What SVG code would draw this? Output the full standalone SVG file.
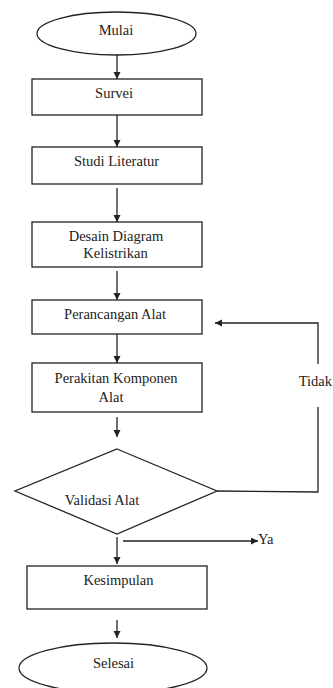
<svg xmlns="http://www.w3.org/2000/svg" width="333" height="688" viewBox="0 0 333 688">
<defs>
<marker id="a" markerUnits="userSpaceOnUse" markerWidth="8" markerHeight="8" refX="7" refY="3.5" orient="auto">
<path d="M0,0 L7,3.5 L0,7 z" fill="#222"/>
</marker>
</defs>
<rect width="333" height="688" fill="#fff"/>
<g id="connectors" fill="none" stroke="#222" stroke-width="1.3">
<line x1="117" y1="55" x2="117" y2="79" marker-end="url(#a)"/>
<line x1="117" y1="115" x2="117" y2="147" marker-end="url(#a)"/>
<line x1="117" y1="188" x2="117" y2="222" marker-end="url(#a)"/>
<line x1="117" y1="271" x2="117" y2="300" marker-end="url(#a)"/>
<line x1="117" y1="334" x2="117" y2="363" marker-end="url(#a)"/>
<line x1="117" y1="417" x2="117" y2="437" marker-end="url(#a)"/>
<line x1="117" y1="537" x2="117" y2="564" marker-end="url(#a)"/>
<line x1="117" y1="620" x2="117" y2="638" marker-end="url(#a)"/>
<polyline points="217,491 318,492 318,407"/>
<polyline points="318,364 318,323 215,323" marker-end="url(#a)"/>
<line x1="123" y1="541" x2="258" y2="541" marker-end="url(#a)"/>
</g>
<g id="labels" fill="#222">
<text x="332" y="386" font-family="Liberation Serif" font-size="14.5" text-anchor="end">Tidak</text>
<text x="258" y="544" font-family="Liberation Serif" font-size="14.5">Ya</text>
</g>
<g id="nodes" fill="#fff" stroke="#222" stroke-width="1.3">
<g id="mulai"><ellipse cx="116.5" cy="33.5" rx="79.5" ry="21.5"/></g>
<g id="survei"><rect x="32" y="79" width="170" height="36"/></g>
<g id="studi"><rect x="32" y="147" width="170" height="37"/></g>
<g id="desain"><rect x="32" y="222" width="170" height="45"/></g>
<g id="perancangan"><rect x="32" y="300" width="170" height="34"/></g>
<g id="perakitan"><rect x="32" y="363" width="170" height="49"/></g>
<g id="validasi"><polygon points="117,449 217,491 117,534 15,491"/></g>
<g id="kesimpulan"><rect x="27" y="566" width="180" height="43"/></g>
<g id="selesai"><ellipse cx="113" cy="668" rx="94" ry="25"/></g>
</g>
<g id="node-texts" fill="#222" text-anchor="middle">
<text x="116" y="35" font-family="Liberation Serif" font-size="14.5">Mulai</text>
<text x="114" y="98" font-family="Liberation Serif" font-size="14.5">Survei</text>
<text x="116.5" y="165.5" font-family="Liberation Serif" font-size="14.5">Studi Literatur</text>
<text x="116" y="240.5" font-family="Liberation Serif" font-size="14.5">Desain Diagram</text>
<text x="115.5" y="258" font-family="Liberation Serif" font-size="14.5">Kelistrikan</text>
<text x="115" y="319" font-family="Liberation Serif" font-size="14.5">Perancangan Alat</text>
<text x="116" y="383" font-family="Liberation Serif" font-size="14.5">Perakitan Komponen</text>
<text x="111" y="402" font-family="Liberation Serif" font-size="14.5">Alat</text>
<text x="102" y="505" font-family="Liberation Serif" font-size="14.5">Validasi Alat</text>
<text x="118.5" y="585" font-family="Liberation Serif" font-size="14.5">Kesimpulan</text>
<text x="113.5" y="668" font-family="Liberation Serif" font-size="14.5">Selesai</text>
</g>
</svg>
